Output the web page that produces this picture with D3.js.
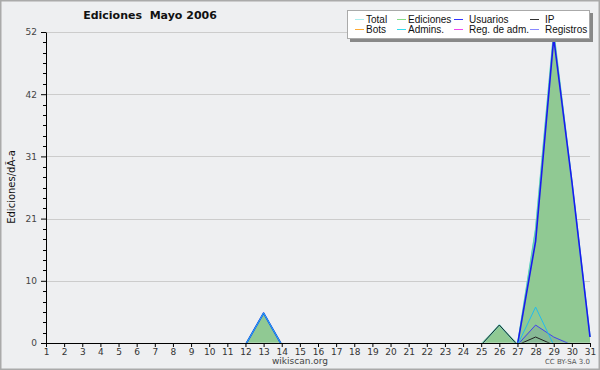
<!DOCTYPE html>
<html><head><meta charset="utf-8">
<script src="https://cdn.jsdelivr.net/npm/d3@7"></script>
<style>body{margin:0;background:#fff}svg{display:block}</style>
</head><body>
<svg id="c" width="600" height="370"></svg>
<script>
const days = d3.range(1, 32);
const total      = [0,0,0,0,0,0,0,0,0,0,0,0,5,0,0,0,0,0,0,0,0,0,0,0,0,3,0,19,52,27,1];
const ediciones  = [0,0,0,0,0,0,0,0,0,0,0,0,5,0,0,0,0,0,0,0,0,0,0,0,0,3,0,19,52,27,1];
const usuarios   = [0,0,0,0,0,0,0,0,0,0,0,0,5,0,0,0,0,0,0,0,0,0,0,0,0,0,0,17,51,27,1];
const ip         = [0,0,0,0,0,0,0,0,0,0,0,0,0,0,0,0,0,0,0,0,0,0,0,0,0,3,0,1,0,0,0];
const bots       = [0,0,0,0,0,0,0,0,0,0,0,0,0,0,0,0,0,0,0,0,0,0,0,0,0,0,0,0,0,0,0];
const admins     = [0,0,0,0,0,0,0,0,0,0,0,0,5,0,0,0,0,0,0,0,0,0,0,0,0,0,0,6,0,0,0];
const regAdm     = [0,0,0,0,0,0,0,0,0,0,0,0,0,0,0,0,0,0,0,0,0,0,0,0,0,0,0,0,0,0,0];
const registros  = [0,0,0,0,0,0,0,0,0,0,0,0,0,0,0,0,0,0,0,0,0,0,0,0,0,0,0,3,1,0,0];
const yTickValues = [0, 10.4, 20.8, 31.2, 41.6, 52];
const yTickLabels = ["0","10","21","31","42","52"];
const legendNames = ["Total","Ediciones","Usuarios","IP","Bots","Admins.","Reg. de adm.","Registros"];
const legendColors = ["#aaeeee","#88dd88","#3333ff","#333333","#ffaa33","#33ddee","#ee44ee","#8888ff"];

const svg = d3.select("#c");
const x = d3.scaleLinear().domain([1,31]).range([46,590]);
const y = d3.scaleLinear().domain([0,52]).range([343,32]);

svg.append("defs").append("clipPath").attr("id","pc").append("rect")
  .attr("x",40).attr("y",20).attr("width",560).attr("height",y(0)-20-0.2);

svg.append("rect").attr("x",0).attr("y",0).attr("width",600).attr("height",370).attr("fill","#eeeff1");
svg.append("rect").attr("x",0.5).attr("y",0.5).attr("width",599).attr("height",369).attr("fill","none").attr("stroke","#aaaaaa").attr("stroke-width",2);

// grid
svg.append("g").selectAll("line").data(yTickValues.slice(1)).join("line")
  .attr("x1",46).attr("x2",590).attr("y1",d=>Math.round(y(d))+0.5).attr("y2",d=>Math.round(y(d))+0.5)
  .attr("stroke","#cccccc").attr("stroke-width",1);

const plot = svg.append("g").attr("clip-path","url(#pc)");
const area = d3.area().x((d,i)=>x(days[i])).y0(y(0)).y1(d=>y(d));
plot.append("path").datum(ediciones).attr("d",area).attr("fill","#90c993");
plot.append("path").datum(registros).attr("d",area).attr("fill","#6a8a9a").attr("opacity",0.25);

const line = d3.line().x((d,i)=>x(days[i])).y(d=>y(d) + (d===0 ? 2 : 0));
function drawLine(data,color,w){
  plot.append("path").datum(data).attr("d",line).attr("fill","none").attr("stroke",color).attr("stroke-width",w).attr("stroke-linejoin","round");
}
drawLine(bots,"#ffaa33",1);
drawLine(regAdm,"#ee44ee",1);
drawLine(total,"#66dddd",1.5);
drawLine(ediciones,"#66ccaa",1);
drawLine(registros,"#4444ee",1);
drawLine(usuarios,"#1a1aee",1.6);
drawLine(admins,"#22bbee",1);
drawLine(ip,"#222222",1);

// axes
const yAxis = d3.axisLeft(y).tickValues(yTickValues).tickFormat((d,i)=>yTickLabels[i]).tickSize(5).tickSizeOuter(0);
const gy = svg.append("g").attr("transform","translate(46,0)").call(yAxis);
gy.selectAll("text").attr("font-family","DejaVu Sans, sans-serif").attr("font-size",9).attr("fill","#444").attr("dx","-1");
gy.select(".domain").attr("stroke","#000");
const minor = d3.range(0, 31).map(i=>i*52/30).filter((d,i)=>i%6!==0);
svg.append("g").selectAll("line").data(minor).join("line")
  .attr("x1",43).attr("x2",46).attr("y1",d=>Math.round(y(d))+0.5).attr("y2",d=>Math.round(y(d))+0.5).attr("stroke","#000");

const xAxis = d3.axisBottom(x).tickValues(days).tickFormat(d3.format("d")).tickSize(4).tickSizeOuter(0);
const gx = svg.append("g").attr("transform","translate(0,343)").call(xAxis);
gx.selectAll("text").attr("font-family","DejaVu Sans, sans-serif").attr("font-size",9).attr("fill","#333").attr("dy","0.6em");
gx.select(".domain").attr("stroke","#000").attr("stroke-width",1.2);

// title
svg.append("text").attr("x",150).attr("y",19).attr("text-anchor","middle")
  .attr("font-family","DejaVu Sans, sans-serif").attr("font-weight","bold").attr("font-size",11).attr("fill","#111")
  .attr("xml:space","preserve").text("Ediciones  Mayo 2006");
// y label
svg.append("text").attr("transform","translate(15,187) rotate(-90)").attr("text-anchor","middle")
  .attr("font-family","DejaVu Sans, sans-serif").attr("font-size",10).attr("fill","#111").text("Ediciones/dÃ-a");
svg.append("text").attr("x",300).attr("y",364).attr("text-anchor","middle")
  .attr("font-family","DejaVu Sans, sans-serif").attr("font-size",9).attr("fill","#444").text("wikiscan.org");
svg.append("text").attr("x",590).attr("y",364).attr("text-anchor","end")
  .attr("font-family","DejaVu Sans, sans-serif").attr("font-size",7).attr("fill","#555").text("CC BY-SA 3.0");

// legend
svg.append("rect").attr("x",350).attr("y",13).attr("width",243).attr("height",29).attr("fill","#888");
svg.append("rect").attr("x",347.5).attr("y",10.5).attr("width",242).attr("height",28).attr("fill","#fff").attr("stroke","#aaa");
const colX = [355,397,454,530];
const textX = [366,408,469,545];
const lg = svg.append("g");
legendNames.forEach((n,i)=>{
  const c = i%4, r = Math.floor(i/4);
  const yy = 19 + r*10;
  lg.append("line").attr("x1",colX[c]).attr("x2",colX[c]+9).attr("y1",yy+0.5).attr("y2",yy+0.5).attr("stroke",legendColors[i]);
  lg.append("text").attr("x",textX[c]).attr("y",yy+3.5).attr("font-family","Liberation Sans, Arial, sans-serif").attr("font-size",10).attr("fill","#111").text(n);
});
</script>
</body></html>
